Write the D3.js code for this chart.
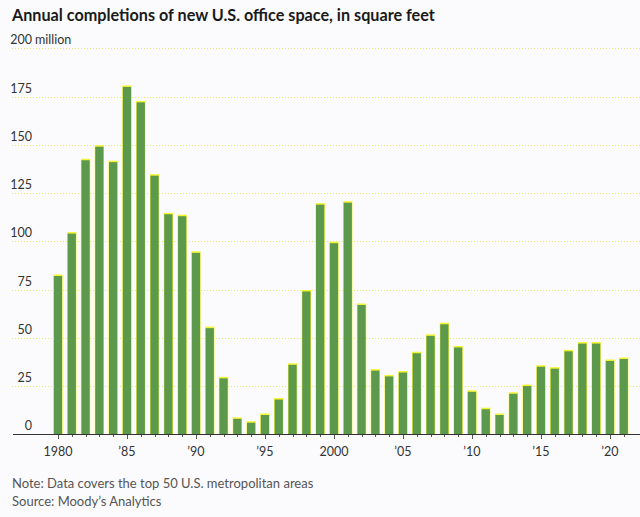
<!DOCTYPE html>
<html>
<head>
<meta charset="utf-8">
<script src="https://cdn.jsdelivr.net/npm/d3@7"></script>
<style>
  html, body { margin: 0; padding: 0; background: #fbfbfd; }
  svg { display: block; }
</style>
</head>
<body>
<svg id="chart" width="640" height="517"></svg>
<script>
const years = d3.range(1980, 2022);
const values = [82, 104, 142, 149, 141, 180, 172, 134, 114, 113, 94,
  55, 29, 8, 6, 10, 18, 36, 74, 119, 99, 120, 67, 33, 30, 32, 42, 51,
  57, 45, 22, 13, 10, 21, 25, 35, 34, 43, 47, 47, 38, 39];
const yTicks = [0, 25, 50, 75, 100, 125, 150, 175, 200];
const xTickYears = [1980, 1985, 1990, 1995, 2000, 2005, 2010, 2015, 2020];
const xTickLabel = y => y === 1980 || y === 2000 ? String(y) : "\u2019" + String(y).slice(2);

const svg = d3.select("#chart");
const font = "Lato, 'Noto Sans', sans-serif";

const x = d3.scaleBand().domain(years).range([48.3, 633.4]).padding(0.4);
const y = d3.scaleLinear().domain([0, 200]).range([434.3, 48.3]);

// Title
svg.append("text").attr("x", 12).attr("y", 21)
  .attr("font-family", font).attr("font-weight", 700).attr("font-size", 16.2)
  .attr("fill", "#1a1a1a")
  .text("Annual completions of new U.S. office space, in square feet");

// Gridlines
svg.append("g").selectAll("line").data(yTicks.filter(t => t > 0)).join("line")
  .attr("x1", 12).attr("x2", 640)
  .attr("y1", d => Math.round(y(d)) + 0.5).attr("y2", d => Math.round(y(d)) + 0.5)
  .attr("stroke", "#e8e878").attr("stroke-width", 1)
  .attr("stroke-dasharray", "1,2");

// Y labels
const yl = svg.append("g").attr("font-family", font).attr("font-size", 12.5).attr("fill", "#333");
yl.selectAll("text").data(yTicks).join("text")
  .attr("x", 32).attr("y", d => y(d) - 4)
  .attr("text-anchor", "end").text(d => d);
yl.append("text").attr("x", 35).attr("y", y(200) - 4).text("million");

// Bars: yellow highlight behind, green on top
const bars = svg.append("g");
bars.selectAll("rect.hl").data(values).join("rect").attr("class", "hl")
  .attr("x", (d, i) => x(years[i]) - 0.5)
  .attr("width", x.bandwidth() + 1)
  .attr("y", d => y(d) - 1.5)
  .attr("height", d => y(0) - y(d) + 1.5)
  .attr("fill", "#f4f432");
bars.selectAll("rect.bar").data(values).join("rect").attr("class", "bar")
  .attr("x", (d, i) => x(years[i]))
  .attr("width", x.bandwidth())
  .attr("y", d => y(d))
  .attr("height", d => y(0) - y(d))
  .attr("fill", "#5c994c");

// X axis baseline
svg.append("line").attr("x1", 13).attr("x2", 640)
  .attr("y1", 434.5).attr("y2", 434.5)
  .attr("stroke", "#333").attr("stroke-width", 1);

// Ticks at each year
svg.append("g").selectAll("line").data(years).join("line")
  .attr("x1", d => Math.round(x(d) + x.bandwidth() / 2) + 0.5)
  .attr("x2", d => Math.round(x(d) + x.bandwidth() / 2) + 0.5)
  .attr("y1", 435).attr("y2", d => xTickYears.includes(d) ? 439 : 437)
  .attr("stroke", "#555");

// X labels
svg.append("g").attr("font-family", font).attr("font-size", 12.5).attr("fill", "#333")
  .selectAll("text").data(xTickYears).join("text")
  .attr("x", d => x(d) + x.bandwidth() / 2).attr("y", 456)
  .attr("text-anchor", "middle").text(xTickLabel);

// Footer
const ft = svg.append("g").attr("font-family", font).attr("font-size", 13).attr("fill", "#555");
ft.append("text").attr("x", 12).attr("y", 488).text("Note: Data covers the top 50 U.S. metropolitan areas");
ft.append("text").attr("x", 12).attr("y", 506).text("Source: Moody\u2019s Analytics");
</script>
</body>
</html>
